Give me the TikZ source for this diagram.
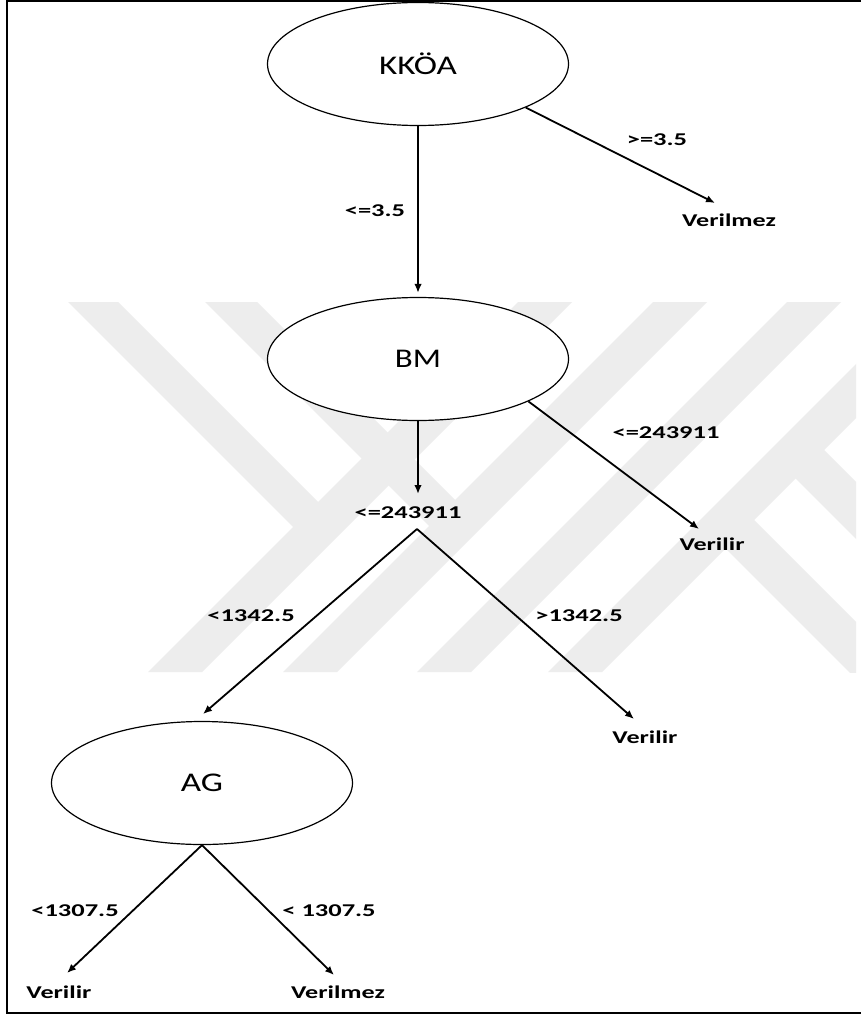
\documentclass[tikz,border=0pt]{standalone}
\usepackage{fontspec}
\setmainfont{Carlito}
\usepackage{graphicx}
\usetikzlibrary{shapes.geometric,arrows.meta}
% horizontally stretched text
\newcommand{\wide}[2]{\scalebox{#1}[1]{#2}}
\begin{document}
\begin{tikzpicture}[x=1pt,y=-1pt,
  decision/.style={ellipse,draw,line width=1.2pt,fill=white,
    minimum width=301pt,minimum height=123pt,inner sep=0pt,
    font=\fontsize{27}{30}\selectfont},
  cond/.style={font=\fontsize{18}{20}\selectfont\bfseries,inner sep=1pt},
  leaf/.style={font=\fontsize{18}{20}\selectfont\bfseries,inner sep=1pt},
  edge/.style={line width=1.8pt,-{Latex[length=9pt,width=7.5pt]}},
  plain/.style={line width=1.8pt},
  stripe/.style={fill=black!7}
]
\useasboundingbox (0,0) rectangle (860,1016);
\fill[white] (0,0) rectangle (860,1016);

% faint logo in the background
\begin{scope}
  \clip (8,302) rectangle (856,672);
  \fill[stripe] (148,672) -- (202,672) -- (572,302) -- (518,302) -- cycle;
  \fill[stripe] (283,672) -- (337,672) -- (707,302) -- (653,302) -- cycle;
  \fill[stripe] (417,672) -- (471,672) -- (841,302) -- (787,302) -- cycle;
  \fill[stripe] (548,672) -- (602,672) -- (972,302) -- (918,302) -- cycle;
  \fill[stripe] (68,302) -- (118,302) -- (331.5,515.5) -- (306.5,540.5) -- cycle;
  \fill[stripe] (205,302) -- (257,302) -- (468.5,513.5) -- (442.5,539.5) -- cycle;
  \fill[stripe] (810.5,436.5) -- (900,526) -- (900,583) -- (782,465) -- cycle;
  \fill[stripe] (740.5,506.5) -- (960,726) -- (960,783) -- (712,535) -- cycle;
\end{scope}

% frame
\draw[line width=2pt] (7,1.5) rectangle (870,1013);

% decision nodes
\node[decision] (kk) at (418,64) {\wide{1.3}{KKÖA}};
\node[decision] (bm) at (418,359) {\wide{1.22}{BM}};
\node[decision] (ag) at (202,783) {\wide{1.3}{AG}};

% leaves and split point
\node[leaf] (v1) at (729,220) {\wide{1.45}{Verilmez}};
\node[leaf] (v2) at (712,544) {\wide{1.45}{Verilir}};
\node[cond] (mid) at (408,513) {\wide{1.47}{<=243911}};
\node[leaf] (v3) at (645,737) {\wide{1.45}{Verilir}};
\node[leaf] (v4) at (59,992) {\wide{1.45}{Verilir}};
\node[leaf] (v5) at (338,992) {\wide{1.45}{Verilmez}};

% arrow end points
\coordinate (t1) at (715,203);
\coordinate (t2) at (699,529);
\coordinate (t3) at (418,494);
\coordinate (apex) at (417,529);
\coordinate (t4) at (203,714);
\coordinate (t5) at (634,719);
\coordinate (t6) at (67,973);
\coordinate (t7) at (334,975);

% connectors
\draw[edge] (kk.south) -- ([yshift=4pt]bm.north);
\draw[edge] (kk.-22) -- (t1);
\draw[edge] (bm.south) -- (t3);
\draw[edge] (bm.-21.5) -- (t2);
\draw[edge] (apex) -- (t4);
\draw[edge] (apex) -- (t5);
\draw[edge] (ag.south) -- (t6);
\draw[edge] (ag.south) -- (t7);

% branch conditions
\node[cond] at (375,211) {\wide{1.47}{<=3.5}};
\node[cond] at (657,140) {\wide{1.47}{>=3.5}};
\node[cond] at (666,433) {\wide{1.47}{<=243911}};
\node[cond] at (251,616) {\wide{1.47}{<1342.5}};
\node[cond] at (579,616) {\wide{1.47}{>1342.5}};
\node[cond] at (75,911) {\wide{1.47}{<1307.5}};
\node[cond] at (329,911) {\wide{1.47}{< 1307.5}};
\end{tikzpicture}
\end{document}
